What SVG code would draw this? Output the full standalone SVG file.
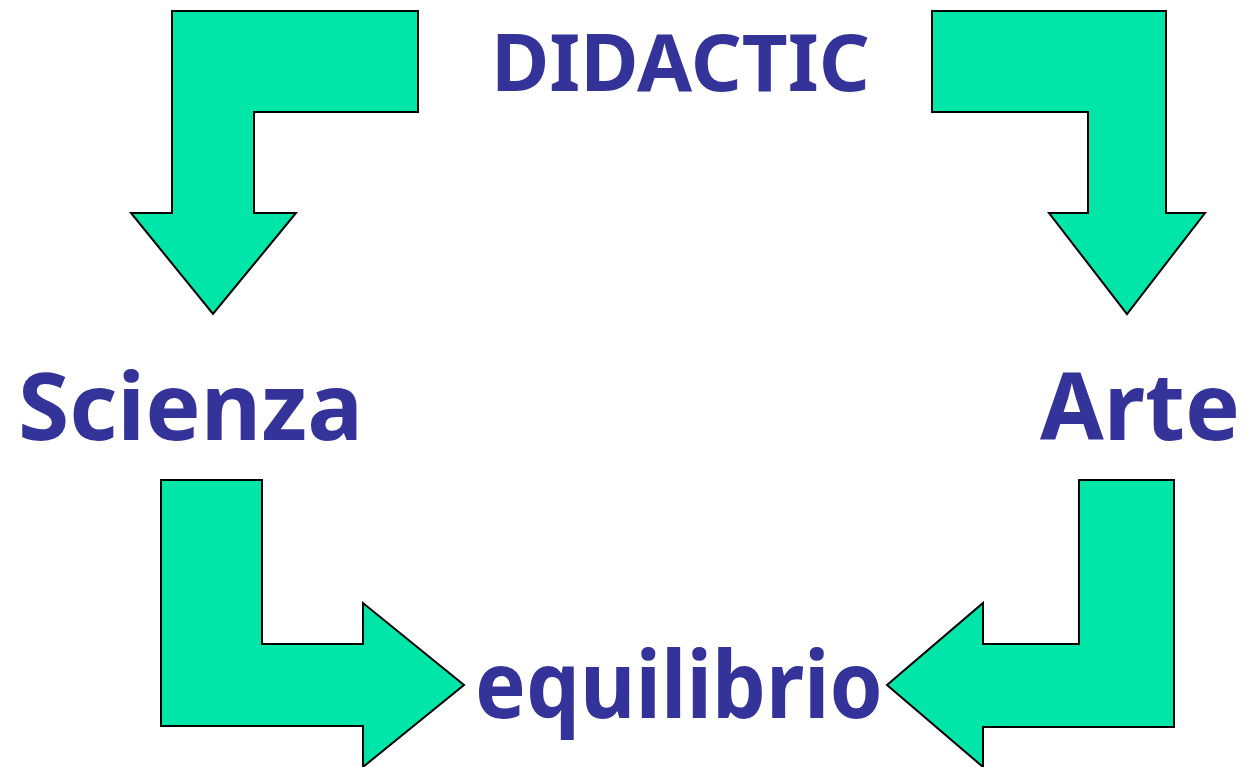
<svg xmlns="http://www.w3.org/2000/svg" width="1252" height="767" viewBox="0 0 1252 767">
  <style>
    .arrow { fill: #00E5A8; stroke: #000000; stroke-width: 2; stroke-linejoin: miter; }
    .label { font-family: "Comic Sans MS", "Noto Sans", "DejaVu Sans", sans-serif; font-weight: bold; fill: #333399; }
  </style>
  <rect width="1252" height="767" fill="#FFFFFF"/>
  <g id="connectors">
    <polygon id="arrow-didactic-scienza" class="arrow" points="172,11 418,11 418,112 254,112 254,213 296,213 213,314 131,213 172,213"/>
    <polygon id="arrow-didactic-arte" class="arrow" points="932,11 1166,11 1166,213 1205,213 1127,314 1049,213 1088,213 1088,112 932,112"/>
    <polygon id="arrow-scienza-equilibrio" class="arrow" points="161,480 262,480 262,644 363,644 363,603 464,685 363,767 363,726 161,726"/>
    <polygon id="arrow-arte-equilibrio" class="arrow" points="1079,480 1174,480 1174,727 983,727 983,767 887,685 983,603 983,644 1079,644"/>
  </g>
  <g id="node-didactic">
    <text class="label" x="491" y="91" font-size="78" textLength="379" lengthAdjust="spacingAndGlyphs">DIDACTIC</text>
  </g>
  <g id="node-scienza">
    <text class="label" x="18" y="440" font-size="94" textLength="345" lengthAdjust="spacingAndGlyphs">Scienza</text>
  </g>
  <g id="node-arte">
    <text class="label" x="1040" y="440" font-size="94" textLength="200" lengthAdjust="spacingAndGlyphs">Arte</text>
  </g>
  <g id="node-equilibrio">
    <text class="label" x="475" y="718" font-size="94" textLength="408" lengthAdjust="spacingAndGlyphs">equilibrio</text>
  </g>
</svg>
